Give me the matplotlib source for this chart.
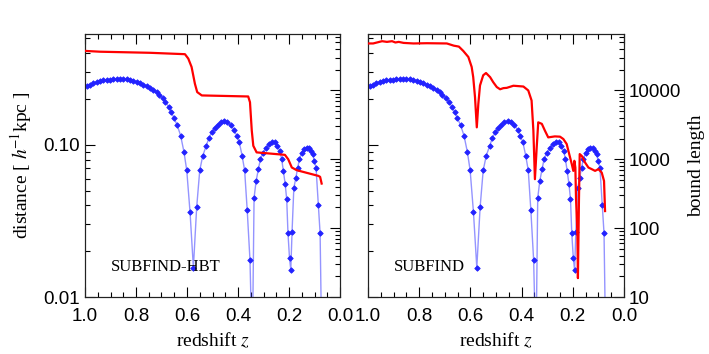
import matplotlib
matplotlib.use("Agg")
from matplotlib import pyplot as plt
from matplotlib.ticker import FixedLocator, LogLocator, NullFormatter, FixedFormatter
import numpy as np

# blue: distance between the pair, same in both panels
z_dist = [0.993, 0.980, 0.967, 0.954, 0.941, 0.928, 0.915, 0.902, 0.889, 0.876, 0.863,
          0.850, 0.837, 0.824, 0.810, 0.797, 0.784, 0.771, 0.758, 0.745,
          0.732, 0.719, 0.709, 0.695, 0.685, 0.672, 0.662, 0.651,
          0.638, 0.625, 0.612, 0.601, 0.588, 0.575, 0.562, 0.550, 0.538, 0.525,
          0.514, 0.503, 0.492, 0.480, 0.467, 0.454, 0.442, 0.429, 0.416, 0.405,
          0.395, 0.384, 0.374, 0.364, 0.353, 0.344,
          0.337, 0.329, 0.320, 0.312, 0.301, 0.289, 0.277, 0.266, 0.255, 0.246,
          0.236, 0.229, 0.222, 0.215, 0.209, 0.204, 0.198, 0.193, 0.188, 0.181,
          0.173, 0.166, 0.159, 0.150, 0.141, 0.131, 0.122, 0.114, 0.107, 0.101,
          0.094, 0.085, 0.078, 0.071]
distance = [0.243, 0.248, 0.255, 0.259, 0.262, 0.265, 0.267, 0.268, 0.269, 0.271, 0.271,
            0.271, 0.269, 0.267, 0.264, 0.260, 0.255, 0.249, 0.243, 0.237,
            0.230, 0.221, 0.214, 0.204, 0.192, 0.178, 0.165, 0.150,
            0.134, 0.115, 0.090, 0.068, 0.036, 0.0156, 0.039, 0.068, 0.085, 0.098,
            0.111, 0.121, 0.129, 0.136, 0.141, 0.143, 0.141, 0.135, 0.126, 0.115,
            0.104, 0.085, 0.068, 0.0375, 0.0175, 0.004,
            0.0448, 0.0578, 0.0693, 0.0808, 0.089, 0.096, 0.102, 0.105, 0.104, 0.0985,
            0.0913, 0.081, 0.0673, 0.0552, 0.0439, 0.0262, 0.0180, 0.0151, 0.0269, 0.0522,
            0.0607, 0.0708, 0.0804, 0.0889, 0.0937, 0.096, 0.095, 0.0913, 0.0868, 0.0783,
            0.0708, 0.0404, 0.0262, 0.004]

# red: bound length, SUBFIND-HBT
z_hbt = [1.0, 0.941, 0.745, 0.608, 0.595, 0.582, 0.569, 0.560, 0.542, 0.360, 0.353,
         0.346, 0.340, 0.327, 0.216, 0.203, 0.189, 0.170, 0.085, 0.078, 0.072]
bound_hbt = [37500, 36500, 35200, 33600, 29000, 21900, 12500, 9460, 8460, 8170, 6740,
             2610, 1570, 1260, 1160, 1000, 760, 695, 574, 556, 444]

# red: bound length, SUBFIND
z_sf = [1.0, 0.980, 0.945, 0.926, 0.906, 0.893, 0.880, 0.861, 0.822, 0.770, 0.692,
        0.665, 0.645, 0.628, 0.608, 0.595, 0.589, 0.582, 0.575, 0.569, 0.5625,
        0.550, 0.539, 0.523, 0.511, 0.497, 0.484, 0.471, 0.458, 0.432, 0.393,
        0.374, 0.361, 0.354, 0.348, 0.341, 0.335, 0.321, 0.309, 0.296, 0.270,
        0.250, 0.237, 0.224, 0.214, 0.204, 0.198, 0.194, 0.190, 0.1875, 0.182,
        0.180, 0.176, 0.173, 0.165, 0.152, 0.139, 0.126, 0.113, 0.100, 0.087,
        0.078, 0.074]
bound_sf = [48100, 48100, 51900, 50700, 51900, 49700, 50700, 49000, 48100, 48500, 48100,
            44700, 43300, 37500, 30600, 21900, 15600, 7980, 2910, 6400, 11800,
            16600, 17900, 15600, 13200, 11200, 10400, 10800, 10900, 11700, 11400,
            10000, 7140, 2610, 514, 1490, 3440, 3270, 2610, 2080, 2150,
            2130, 1970, 1670, 1190, 851, 679, 951, 759, 277, 81,
            18.8, 248, 1190, 1120, 897, 759, 719, 679, 719, 641,
            485, 177]

z_ticks = [1.0, 0.8, 0.6, 0.4, 0.2, 0.0]
z_labels = ["1.0", "0.8", "0.6", "0.4", "0.2", "0.0"]

plt.rcParams['mathtext.fontset'] = 'stix'
serif = 'Liberation Serif'
sans = 'Liberation Sans'

fig = plt.figure(figsize=(7.09, 3.54), dpi=100)
ax1 = fig.add_axes([85/709, 57/354, 255/709, 263/354])
ax2 = fig.add_axes([368/709, 57/354, 256/709, 263/354])

panels = [(ax1, z_hbt, bound_hbt, "SUBFIND-HBT"), (ax2, z_sf, bound_sf, "SUBFIND")]
for i, (ax, zr, br, name) in enumerate(panels):
    ax.plot(z_dist, distance, color='#4d4dff', lw=1, alpha=0.6, zorder=2)
    ax.plot(z_dist, distance, ls='none', marker='D', ms=2.8, color='#2222ff',
            markeredgewidth=0.6, zorder=3)
    ax.set_yscale('log')
    ax.set_ylim(0.01, 0.535)
    ax.set_xlim(1.0, 0.0)
    ax.xaxis.set_major_locator(FixedLocator(z_ticks))
    ax.xaxis.set_major_formatter(FixedFormatter(z_labels))
    ax.xaxis.set_minor_locator(FixedLocator(np.arange(0.0, 1.0001, 0.05)))
    ax.yaxis.set_major_locator(FixedLocator([0.01, 0.1]))
    ax.yaxis.set_minor_locator(LogLocator(base=10, subs=np.arange(2, 10)))
    ax.yaxis.set_minor_formatter(NullFormatter())
    ax.tick_params(which='both', direction='in', top=True, right=False, labelsize=13.5)
    ax.tick_params(axis='x', pad=8)
    ax.tick_params(which='major', length=7, width=0.8)
    ax.tick_params(which='minor', length=3.5, width=0.8)
    for lab in ax.get_xticklabels() + ax.get_yticklabels():
        lab.set_fontfamily(sans)
    ax.set_xlabel("redshift $z$", fontsize=14, fontfamily=serif, labelpad=4)
    ax.text(0.1, 0.1, name, transform=ax.transAxes, fontsize=12, fontfamily=serif)

    tw = ax.twinx()
    tw.plot(zr, br, color='red', lw=1.6, zorder=4)
    tw.set_yscale('log')
    tw.set_ylim(10, 66000)
    tw.set_xlim(1.0, 0.0)
    tw.yaxis.set_minor_formatter(NullFormatter())
    tw.tick_params(which='both', direction='in', labelsize=13.5)
    tw.tick_params(which='major', length=7, width=0.8)
    tw.tick_params(which='minor', length=3.5, width=0.8)
    for sp in list(ax.spines.values()) + list(tw.spines.values()):
        sp.set_linewidth(0.8)
        sp.set_color('#222222')
    if i == 0:
        ax.yaxis.set_major_formatter(FixedFormatter(["0.01", "0.10"]))
        for lab in ax.get_yticklabels():
            lab.set_fontfamily(sans)
        ax.set_ylabel("distance [ $h$$^{-1}$kpc ]", fontsize=14, fontfamily=serif, labelpad=7)
        tw.tick_params(labelright=False)
    else:
        ax.tick_params(labelleft=False)
        tw.yaxis.set_major_formatter(FixedFormatter(["10", "100", "1000", "10000"]))
        tw.yaxis.set_major_locator(FixedLocator([10, 100, 1000, 10000]))
        for lab in tw.get_yticklabels():
            lab.set_fontfamily(sans)
        tw.set_ylabel("bound length", fontsize=14, fontfamily=serif, labelpad=5)

fig.savefig("out.png", dpi=100)
